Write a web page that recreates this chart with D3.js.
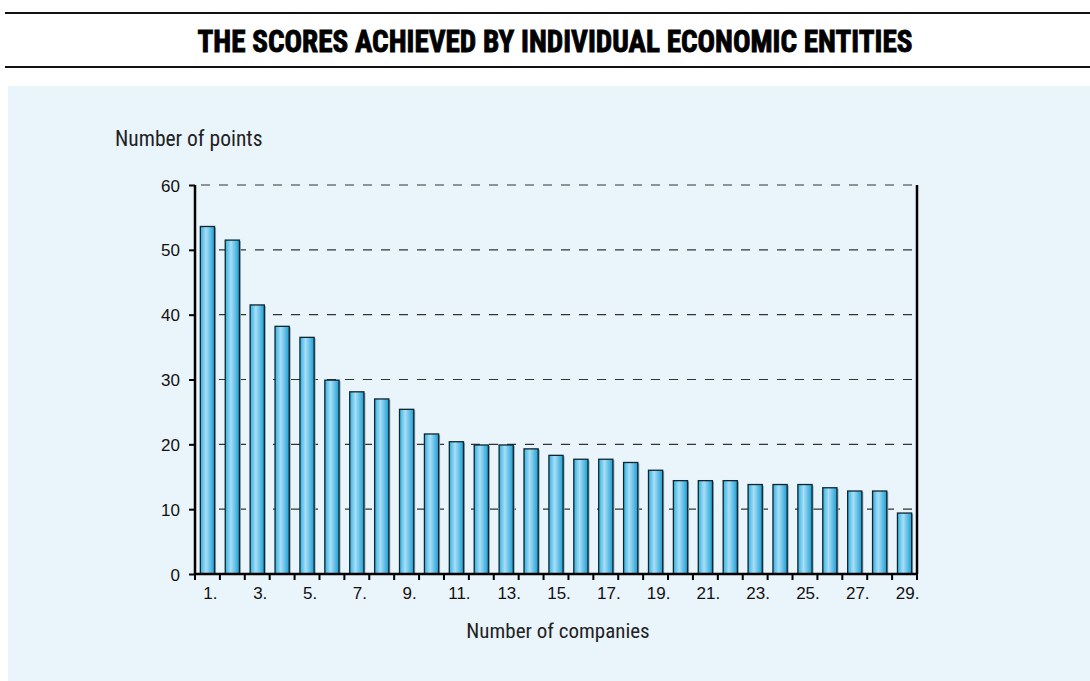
<!DOCTYPE html>
<html lang="en">
<head>
  <meta charset="UTF-8">
  <title>scores</title>
  <script src="https://d3js.org/d3.v7.min.js"></script>
  <style>
    body {
      margin: 0;
      padding: 0;
      background: #fff;
    }
    #chart {
      width: 1090px;
      height: 681px;
    }
  </style>
</head>
<body>
  <div id="chart"></div>
<script>
  // company ranks and the points each one scored
  const companies = d3.range(1, 30).map(d => d + '.')
  const points = [53.6, 51.5, 41.5, 38.2, 36.5, 29.9, 28.1, 27.0, 25.4, 21.6,
                  20.4, 19.9, 19.9, 19.3, 18.3, 17.7, 17.7, 17.2, 16.0, 14.4,
                  14.4, 14.4, 13.8, 13.8, 13.8, 13.3, 12.8, 12.8, 9.4]
  const yTicks = [0, 10, 20, 30, 40, 50, 60]

  const width = 1090
  const height = 681
  const margin = { left: 195, right: 173, top: 185, bottom: 107 }
  const tickFont = '"Liberation Sans", Arial, sans-serif'
  const narrowFont = '"Liberation Sans Narrow", "Roboto Condensed", sans-serif'

  const svg = d3.select('#chart')
    .append('svg')
    .attr('width', width)
    .attr('height', height)

  // header rules + title
  svg.append('line')
    .attr('x1', 5).attr('x2', width).attr('y1', 13).attr('y2', 13)
    .attr('stroke', '#111').attr('stroke-width', 2)
  svg.append('line')
    .attr('x1', 5).attr('x2', width).attr('y1', 67).attr('y2', 67)
    .attr('stroke', '#111').attr('stroke-width', 2)
  svg.append('text')
    .attr('x', 555).attr('y', 52)
    .attr('text-anchor', 'middle')
    .attr('transform', 'translate(555,0) scale(0.94,1) translate(-555,0)')
    .style('font-family', narrowFont)
    .style('font-weight', 'bold')
    .style('font-size', '31px')
    .attr('fill', '#000')
    .attr('stroke', '#000')
    .attr('stroke-width', 0.9)
    .text('THE SCORES ACHIEVED BY INDIVIDUAL ECONOMIC ENTITIES')

  // panel background
  svg.append('rect')
    .attr('x', 8).attr('y', 86)
    .attr('width', width - 8).attr('height', height - 86)
    .attr('fill', '#eaf4fb')

  const defs = svg.append('defs')
  const grad = defs.append('linearGradient')
    .attr('id', 'barGrad')
    .attr('x1', '0%').attr('x2', '100%').attr('y1', '0%').attr('y2', '0%')
  grad.append('stop').attr('offset', '0%').attr('stop-color', '#2fb2e3')
  grad.append('stop').attr('offset', '40%').attr('stop-color', '#a9def6')
  grad.append('stop').attr('offset', '100%').attr('stop-color', '#1a9fd6')

  const x = d3.scaleBand()
    .domain(companies)
    .range([margin.left, width - margin.right])
    .paddingInner(0.43)
    .paddingOuter(0.215)

  const y = d3.scaleLinear()
    .domain([0, 60])
    .range([height - margin.bottom, margin.top])

  // dashed gridlines
  svg.append('g')
    .selectAll('line')
    .data(yTicks.filter(d => d > 0))
    .join('line')
    .attr('x1', margin.left).attr('x2', width - margin.right)
    .attr('y1', d => y(d)).attr('y2', d => y(d))
    .attr('stroke', '#333')
    .attr('stroke-width', 1.2)
    .attr('stroke-dasharray', '9,9')
    .attr('stroke-dashoffset', -6)

  // bars (with a faint shadow)
  const bars = svg.append('g')
  bars.selectAll('rect.shadow')
    .data(points)
    .join('rect')
    .attr('class', 'shadow')
    .attr('x', (d, i) => x(companies[i]) + 1.5)
    .attr('y', d => y(d) + 1)
    .attr('width', x.bandwidth())
    .attr('height', d => y(0) - y(d) - 1)
    .attr('fill', '#9aa4aa')
  bars.selectAll('rect.bar')
    .data(points)
    .join('rect')
    .attr('class', 'bar')
    .attr('x', (d, i) => x(companies[i]))
    .attr('y', d => y(d))
    .attr('width', x.bandwidth())
    .attr('height', d => y(0) - y(d))
    .attr('fill', 'url(#barGrad)')
    .attr('stroke', '#0d2630')
    .attr('stroke-width', 1.3)

  // y axis
  const yAxis = svg.append('g')
    .attr('transform', `translate(${margin.left},0)`)
    .call(d3.axisLeft(y).tickValues(yTicks).tickSize(6).tickPadding(9))
  yAxis.attr('font-size', null).attr('font-family', null)
  yAxis.select('.domain').attr('stroke', '#000').attr('stroke-width', 2.5)
    .attr('d', `M0,${y(0)}V${y(60)}`)
  yAxis.selectAll('.tick line').attr('stroke', '#000').attr('stroke-width', 2)
  yAxis.selectAll('.tick text')
    .style('font-family', tickFont)
    .style('font-size', '17px')
    .attr('dy', '0.36em')
    .attr('fill', '#111')

  // right frame line
  svg.append('line')
    .attr('x1', width - margin.right).attr('x2', width - margin.right)
    .attr('y1', y(60)).attr('y2', y(0))
    .attr('stroke', '#000').attr('stroke-width', 2.5)

  // x axis: ticks on band edges, labels on odd ranks
  const xAxisG = svg.append('g')
  const edges = d3.range(companies.length + 1).map(i => margin.left + i * x.step())
  xAxisG.append('line')
    .attr('x1', margin.left - 1).attr('x2', width - margin.right + 1)
    .attr('y1', y(0)).attr('y2', y(0))
    .attr('stroke', '#000').attr('stroke-width', 2.5)
  xAxisG.selectAll('line.tick')
    .data(edges)
    .join('line')
    .attr('class', 'tick')
    .attr('x1', d => d).attr('x2', d => d)
    .attr('y1', y(0)).attr('y2', y(0) + 6)
    .attr('stroke', '#000').attr('stroke-width', 2)
  xAxisG.selectAll('text')
    .data(companies.filter((d, i) => i % 2 === 0))
    .join('text')
    .attr('x', d => x(d) + x.bandwidth() / 2 + 3)
    .attr('y', y(0) + 25)
    .attr('text-anchor', 'middle')
    .style('font-family', tickFont)
    .style('font-size', '17px')
    .attr('fill', '#111')
    .text(d => d)

  // axis titles
  svg.append('text')
    .attr('x', 115).attr('y', 146)
    .style('font-family', narrowFont)
    .style('font-size', '21.5px')
    .attr('fill', '#222')
    .text('Number of points')
  svg.append('text')
    .attr('x', 558).attr('y', 638)
    .attr('text-anchor', 'middle')
    .style('font-family', narrowFont)
    .style('font-size', '21px')
    .attr('fill', '#222')
    .text('Number of companies')
</script>
</body>
</html>
